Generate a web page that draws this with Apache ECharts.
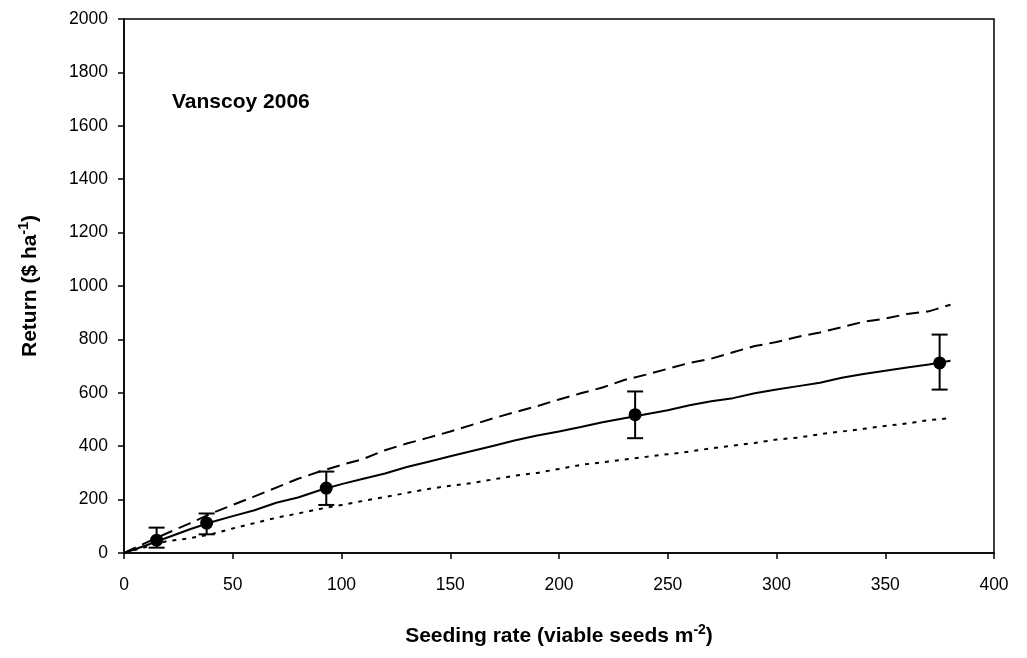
<!DOCTYPE html>
<html><head><meta charset="utf-8">
<script src="https://cdn.jsdelivr.net/npm/echarts@6/dist/echarts.min.js"></script>
<style>html,body{margin:0;padding:0;background:#fff}#c{width:1027px;height:658px}</style>
</head><body><div id="c"></div>
<script>
const xTicks = [0,50,100,150,200,250,300,350,400];
const yTicks = [0,200,400,600,800,1000,1200,1400,1600,1800,2000];
const pointX = [15, 38, 93, 235, 375];
const pointY = [48, 112, 243, 518, 712];
const errLow = [20, 70, 180, 430, 612];
const errHigh = [95, 148, 305, 605, 818];
const curveX = [0,10,20,30,40,50,60,70,80,90,100,110,120,130,140,150,160,170,180,190,200,210,220,230,240,250,260,270,280,290,300,310,320,330,340,350,360,370,380];
const solidY = [0,28,58,88,115,138,160,188,208,235,258,278,298,322,342,362,382,402,422,440,455,472,490,505,520,535,553,568,580,598,612,625,638,656,670,683,695,706,720];
const dashedY = [0,38,75,110,148,180,212,245,278,305,330,352,385,410,432,455,480,505,528,550,575,598,620,648,668,690,712,728,752,775,790,810,826,846,866,878,895,905,930];
const dottedY = [0,22,45,55,70,92,112,132,148,165,180,195,210,225,240,252,262,276,290,300,315,330,340,350,360,370,380,392,402,412,425,432,445,455,465,476,485,498,505];

function pairs(xs, ys){ return xs.map((x,i)=>[x, ys[i]]); }
const chart = echarts.init(document.getElementById('c'));
const font = 'Liberation Sans, Arial, sans-serif';
chart.setOption({
  animation:false,
  grid:{left:124,right:33,top:19,bottom:105,show:true,borderColor:'#000',borderWidth:1.5,backgroundColor:'#fff'},
  title:{text:'Vanscoy 2006',left:167,top:87,textStyle:{fontFamily:font,fontSize:21,fontWeight:'bold',color:'#000'}},
  xAxis:{type:'value',min:0,max:400,interval:50,
    name:'{a|Seeding rate (viable seeds m}{s|-2}{a|)}',nameLocation:'middle',nameGap:70,
    nameTextStyle:{rich:{a:{fontFamily:font,fontSize:21,fontWeight:'bold',color:'#000'},s:{fontFamily:font,fontSize:14,fontWeight:'bold',color:'#000',verticalAlign:'top',padding:[0,0,12,0]}}},
    axisLine:{lineStyle:{color:'#000',width:1.5}},axisTick:{inside:false,length:6,lineStyle:{color:'#000',width:1.5}},
    axisLabel:{fontFamily:font,fontSize:17.5,color:'#000',margin:23,formatter:v=>String(v)},splitLine:{show:false}},
  yAxis:{type:'value',min:0,max:2000,interval:200,
    name:'{a|Return ($ ha}{s|-1}{a|)}',nameLocation:'middle',nameGap:81,nameRotate:90,
    nameTextStyle:{rich:{a:{fontFamily:font,fontSize:21,fontWeight:'bold',color:'#000'},s:{fontFamily:font,fontSize:14,fontWeight:'bold',color:'#000',verticalAlign:'top',padding:[0,0,12,0]}}},
    axisLine:{show:true,lineStyle:{color:'#000',width:1.5}},axisTick:{show:true,inside:false,length:6,lineStyle:{color:'#000',width:1.5}},
    axisLabel:{fontFamily:font,fontSize:17.5,color:'#000',margin:16,formatter:v=>String(v)},splitLine:{show:false}},
  series:[
    {type:'line',data:pairs(curveX,dashedY),symbol:'none',lineStyle:{color:'#000',width:2,type:[13,7]}},
    {type:'line',data:pairs(curveX,dottedY),symbol:'none',lineStyle:{color:'#000',width:2,type:[4,6]}},
    {type:'line',data:pairs(curveX,solidY),symbol:'none',lineStyle:{color:'#000',width:2}},
    {type:'custom',data:pointX.map((x,i)=>[x,errLow[i],errHigh[i]]),
      renderItem:function(params,api){
        const lo=api.coord([api.value(0),api.value(1)]);
        const hi=api.coord([api.value(0),api.value(2)]);
        const w=8;
        const st={stroke:'#000',lineWidth:2};
        return {type:'group',children:[
          {type:'line',shape:{x1:lo[0],y1:lo[1],x2:hi[0],y2:hi[1]},style:st},
          {type:'line',shape:{x1:lo[0]-w,y1:lo[1],x2:lo[0]+w,y2:lo[1]},style:st},
          {type:'line',shape:{x1:hi[0]-w,y1:hi[1],x2:hi[0]+w,y2:hi[1]},style:st}
        ]};
      }},
    {type:'scatter',data:pairs(pointX,pointY),symbol:'circle',symbolSize:13,itemStyle:{color:'#000',opacity:1}}
  ]
});
</script></body></html>
